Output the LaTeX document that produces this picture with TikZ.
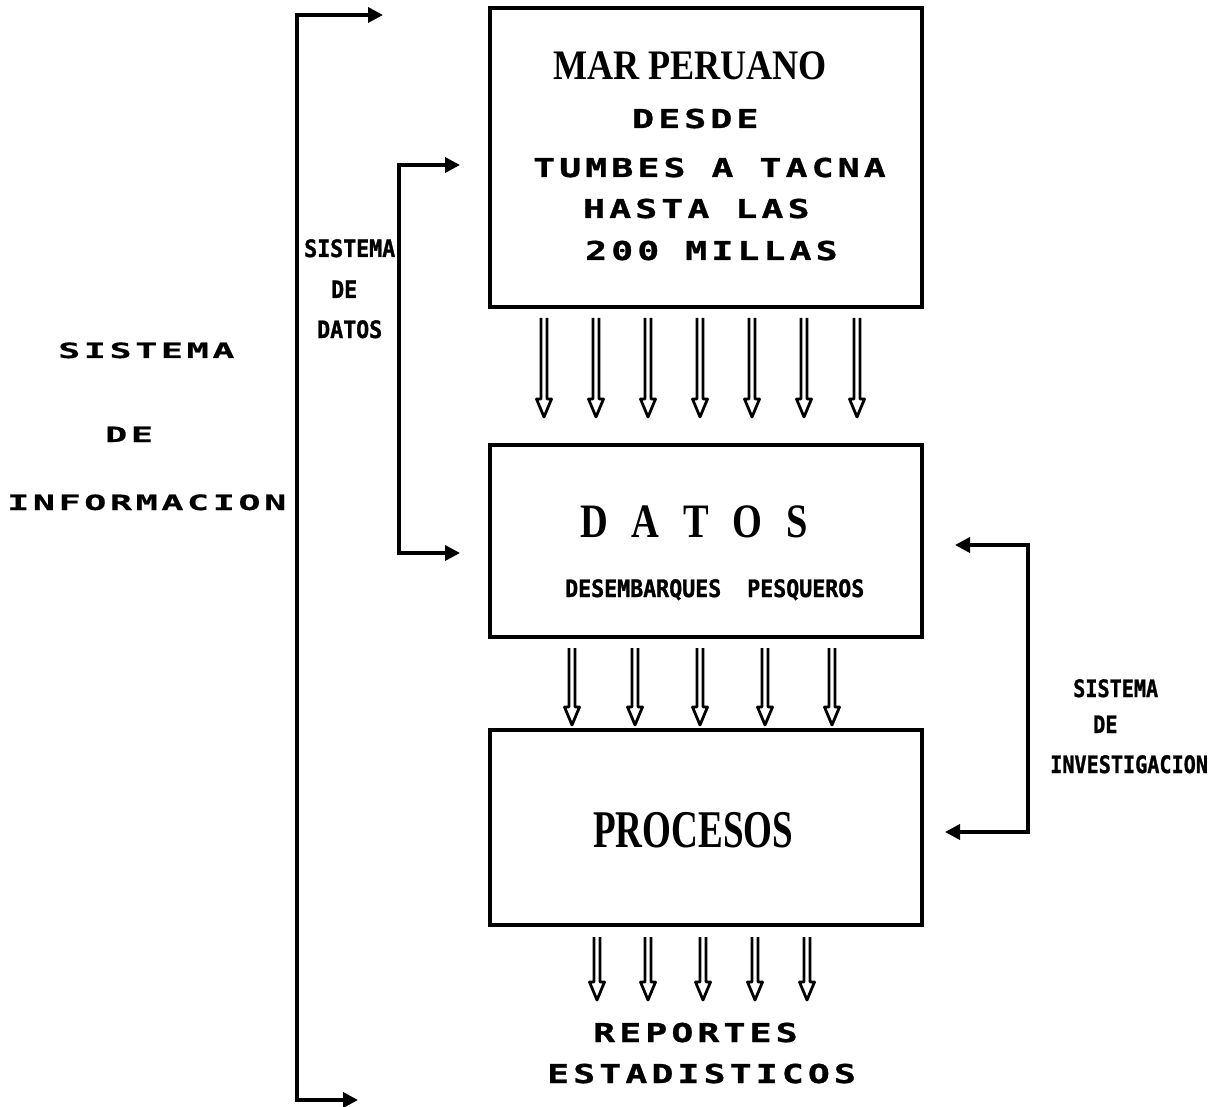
\documentclass[tikz,border=0pt]{standalone}
\usepackage{fontspec}
\usepackage{graphicx}
\usetikzlibrary{arrows.meta}
\newfontfamily\serifc{Liberation Serif}
\newfontfamily\dotwide[FakeStretch=1.4,LetterSpace=16,FakeBold=1.2]{DejaVu Sans Mono Bold}
\newfontfamily\dotleft[FakeStretch=1.75,LetterSpace=17,FakeBold=0.6]{DejaVu Sans Mono Bold}
\newfontfamily\dotnarrow[FakeStretch=0.9,FakeBold=1.2]{DejaVu Sans Mono Bold}
\newfontfamily\dotnarrowr[FakeStretch=0.84,FakeBold=1.2]{DejaVu Sans Mono Bold}
\begin{document}
\begin{tikzpicture}[x=1pt,y=-1pt,
  box/.style={draw, line width=4pt, inner sep=0pt},
  txt/.style={anchor=base west, inner sep=0pt},
  bigtxt/.style={txt, font=\dotwide\fontsize{26}{30}\selectfont},
  reptxt/.style={txt, font=\dotwide\fontsize{26}{30}\selectfont},
  lefttxt/.style={txt, font=\dotleft\fontsize{21}{26}\selectfont},
  smalltxt/.style={txt, font=\dotnarrow\fontsize{24}{28}\selectfont},
  rsmalltxt/.style={txt, font=\dotnarrowr\fontsize{24}{28}\selectfont},
  serif/.style={txt, font=\serifc\bfseries},
  brk/.style={line width=3.5pt, {Triangle[length=15pt,width=15pt]}-{Triangle[length=15pt,width=15pt]}},
  dbl/.style={line width=2.8pt, line join=round}]
\useasboundingbox (0,0) rectangle (1232,1107);

% boxes
\node[box, minimum width=432pt, minimum height=299pt] (mar) at (706,157.5) {};
\node[box, minimum width=432pt, minimum height=192pt] (datos) at (706,541) {};
\node[box, minimum width=432pt, minimum height=195pt] (proc) at (706,827.5) {};

% box 1 text
\node[serif] (t1) at (553,80) {\fontsize{42}{46}\selectfont\scalebox{0.86}[1]{MAR PERUANO}};
\node[bigtxt] (t2) at (632,128) {DESDE};
\node[bigtxt] (t3) at (533,177) {TUMBES A TACNA};
\node[bigtxt] (t4) at (583,218) {HASTA LAS};
\node[bigtxt] (t5) at (585,260) {200 MILLAS};

% box 2 text
\node[serif] (t6) at (580,537) {\fontsize{48}{52}\selectfont\scalebox{0.8}[1]{\spaceskip=0.62em D A T O S}};
\node[smalltxt] (t7) at (565,597) {DESEMBARQUES\ \ PESQUEROS};

% box 3 text
\node[serif] (t8) at (593,847) {\fontsize{53}{58}\selectfont\scalebox{0.7}[1]{PROCESOS}};

% output text
\node[reptxt] (r1) at (593,1042) {REPORTES};
\node[reptxt] (r2) at (547,1083) {ESTADISTICOS};

% left labels
\node[lefttxt] (l1) at (58,358) {SISTEMA};
\node[lefttxt] (l2) at (105,442) {DE};
\node[lefttxt] (l3) at (7,510) {INFORMACION};

% datos labels
\node[smalltxt] (d1) at (304,257) {SISTEMA};
\node[smalltxt] (d2) at (331,298) {DE};
\node[smalltxt] (d3) at (317,338) {DATOS};

% right labels
\node[rsmalltxt] (i1) at (1073,697) {SISTEMA};
\node[rsmalltxt] (i2) at (1093,733) {DE};
\node[rsmalltxt] (i3) at (1050,773) {INVESTIGACION};

% brackets
\coordinate (infT) at (383,15);
\coordinate (infB) at (358,1100);
\coordinate (datT) at (460,165);
\coordinate (datB) at (460,553);
\coordinate (invT) at (955,545);
\coordinate (invB) at (945,832);
\draw[brk] (infT) -- (297,15) -- (297,1100) -- (infB);
\draw[brk] (datT) -- (399,165) -- (399,553) -- (datB);
\draw[brk] (invT) -- (1028,545) -- (1028,832) -- (invB);

% double arrows
\foreach \x in {544,596,648,700,752,804,857}
  \draw[dbl] ({\x-3},318) -- ({\x-3},399) -- ({\x-7.5},399) -- (\x,417) -- ({\x+7.5},399) -- ({\x+3},399) -- ({\x+3},318);
\foreach \x in {572,635,700,765,832}
  \draw[dbl] ({\x-3},648) -- ({\x-3},707) -- ({\x-7.5},707) -- (\x,725) -- ({\x+7.5},707) -- ({\x+3},707) -- ({\x+3},648);
\foreach \x in {597,648,703,755,807}
  \draw[dbl] ({\x-3},937) -- ({\x-3},982) -- ({\x-7.5},982) -- (\x,1000) -- ({\x+7.5},982) -- ({\x+3},982) -- ({\x+3},937);
\end{tikzpicture}
\end{document}
